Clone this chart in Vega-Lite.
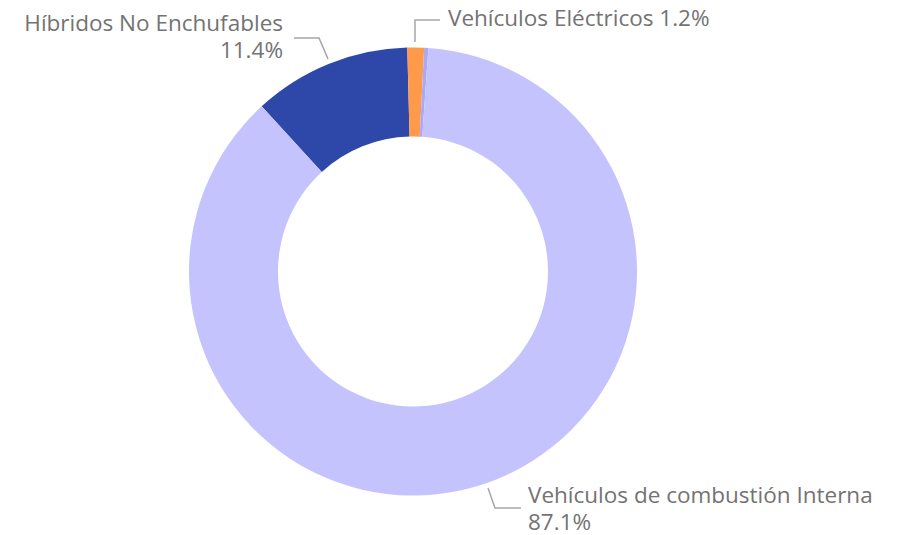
{
  "$schema": "https://vega.github.io/schema/vega-lite/v6.json",
  "width": 904,
  "height": 535,
  "autosize": {"type": "fit", "contains": "padding"},
  "padding": 0,
  "background": "white",
  "config": {"view": {"stroke": null}},
  "datasets": {
    "slices": [
      {"categoria": "Híbridos No Enchufables", "valor": 11.4, "ord": 1},
      {"categoria": "Vehículos Eléctricos", "valor": 1.2, "ord": 2},
      {"categoria": "Otros", "valor": 0.3, "ord": 3},
      {"categoria": "Vehículos de combustión Interna", "valor": 87.1, "ord": 4}
    ],
    "labelsRight": [
      {"texto": "Híbridos No Enchufables", "lx": -0.5804, "ly": 1.0737},
      {"texto": "11.4%", "lx": -0.5804, "ly": 0.9554}
    ],
    "labelsLeft": [
      {"texto": "Vehículos Eléctricos 1.2%", "lx": 0.1563, "ly": 1.0960},
      {"texto": "Vehículos de combustión Interna", "lx": 0.5134, "ly": -1.0357},
      {"texto": "87.1%", "lx": 0.5134, "ly": -1.1563}
    ],
    "leaders": [
      {"grupo": "h", "seq": 1, "lx": -0.5313, "ly": 1.0446},
      {"grupo": "h", "seq": 2, "lx": -0.4196, "ly": 1.0446},
      {"grupo": "h", "seq": 3, "lx": -0.3795, "ly": 0.9509},
      {"grupo": "e", "seq": 1, "lx": 0.0089, "ly": 1.0268},
      {"grupo": "e", "seq": 2, "lx": 0.0089, "ly": 1.125},
      {"grupo": "e", "seq": 3, "lx": 0.1205, "ly": 1.125},
      {"grupo": "c", "seq": 1, "lx": 0.3348, "ly": -0.9688},
      {"grupo": "c", "seq": 2, "lx": 0.3661, "ly": -1.058},
      {"grupo": "c", "seq": 3, "lx": 0.4821, "ly": -1.058}
    ]
  },
  "layer": [
    {
      "data": {"name": "slices"},
      "mark": {"type": "arc", "outerRadius": 224, "innerRadius": 135},
      "encoding": {
        "x": {"datum": 0, "type": "quantitative", "scale": {"domain": [-1.84375, 2.19196], "nice": false, "zero": false}, "axis": null},
        "y": {"datum": 0, "type": "quantitative", "scale": {"domain": [-1.17411, 1.21429], "nice": false, "zero": false}, "axis": null},
        "theta": {"field": "valor", "type": "quantitative", "stack": true, "scale": {"range": [-0.7418, 5.5414]}},
        "order": {"field": "ord", "type": "quantitative"},
        "color": {
          "field": "categoria",
          "type": "nominal",
          "legend": null,
          "scale": {
            "domain": ["Híbridos No Enchufables", "Vehículos Eléctricos", "Otros", "Vehículos de combustión Interna"],
            "range": ["#2e48aa", "#ff9a4a", "#aba8f4", "#c5c3fe"]
          }
        }
      }
    },
    {
      "data": {"name": "leaders"},
      "mark": {"type": "line", "color": "#a6a6a6", "strokeWidth": 1.5},
      "encoding": {
        "x": {"field": "lx", "type": "quantitative"},
        "y": {"field": "ly", "type": "quantitative"},
        "detail": {"field": "grupo"},
        "order": {"field": "seq", "type": "quantitative"}
      }
    },
    {
      "data": {"name": "labelsRight"},
      "mark": {"type": "text", "font": "Open Sans", "fontSize": 22.5, "color": "#737373", "baseline": "alphabetic", "align": "right"},
      "encoding": {
        "x": {"field": "lx", "type": "quantitative"},
        "y": {"field": "ly", "type": "quantitative"},
        "text": {"field": "texto"}
      }
    },
    {
      "data": {"name": "labelsLeft"},
      "mark": {"type": "text", "font": "Open Sans", "fontSize": 22.5, "color": "#737373", "baseline": "alphabetic", "align": "left"},
      "encoding": {
        "x": {"field": "lx", "type": "quantitative"},
        "y": {"field": "ly", "type": "quantitative"},
        "text": {"field": "texto"}
      }
    }
  ]
}
